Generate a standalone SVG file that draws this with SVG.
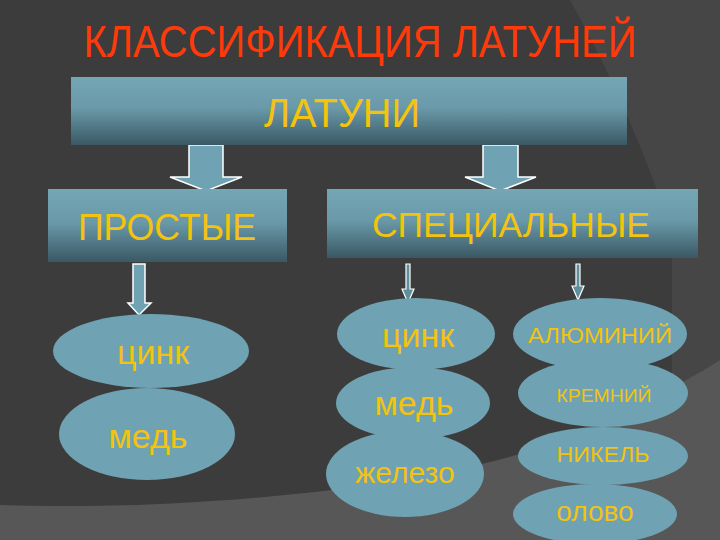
<svg xmlns="http://www.w3.org/2000/svg" width="720" height="540" viewBox="0 0 720 540">
<defs>
<linearGradient id="boxg" x1="0" y1="0" x2="0" y2="1">
<stop offset="0" stop-color="#74a6b5"/>
<stop offset="0.45" stop-color="#6a9aa9"/>
<stop offset="1" stop-color="#3a5864"/>
</linearGradient>
<style>
.box{fill:url(#boxg)}
.ell{fill:#6fa2b2}
.t{font-family:"Liberation Sans",Arial,sans-serif;fill:#f3c30f;text-anchor:middle}
.arrow{fill:#6fa2b2;stroke:#ffffff;stroke-width:1.5;stroke-linejoin:miter}
.thin{fill:#5f8e9d;stroke:#ffffff;stroke-width:1.2}
</style>
</defs>
<rect x="0" y="0" width="720" height="540" fill="#3c3c3c"/>
<path d="M570,0 Q620,90 657,190 L672,260 L672,540 L720,540 L720,0 Z" fill="#464646"/>
<path d="M0,505 C200,512 450,485 560,440 C620,415 690,380 720,360 L720,540 L0,540 Z" fill="#575757"/>
<text x="360" y="57" font-family="'Liberation Sans Narrow','Liberation Sans',Arial,sans-serif" font-size="44" fill="#ff3a0a" text-anchor="middle" textLength="553" lengthAdjust="spacingAndGlyphs">КЛАССИФИКАЦИЯ ЛАТУНЕЙ</text>
<g id="connectors">
<path class="arrow" d="M189,145 L223,145 L223,177 L242,177 L206,191 L170,177 L189,177 Z"/>
<path class="arrow" d="M483,145 L518,145 L518,177 L536,177 L500,191 L465,177 L483,177 Z"/>
<path class="arrow" d="M133,264 L145,264 L145,303 L151,303 L139,315 L128,303 L133,303 Z"/>
<path class="thin" d="M406,264 L410,264 L410,289 L414,289 L408,303 L402,289 L406,289 Z"/>
<path class="thin" d="M576,264 L580,264 L580,286 L584,286 L578,300 L572,286 L576,286 Z"/>
</g>
<g id="latuni">
<rect class="box" x="71" y="77" width="556" height="68"/>
<text class="t" x="342" y="127" font-size="40" textLength="156" lengthAdjust="spacingAndGlyphs">ЛАТУНИ</text>
</g>
<g id="prostye">
<rect class="box" x="48" y="189" width="239" height="73"/>
<text class="t" x="167" y="240" font-size="37" textLength="178" lengthAdjust="spacingAndGlyphs">ПРОСТЫЕ</text>
</g>
<g id="specialnye">
<rect class="box" x="327" y="189" width="371" height="69"/>
<text class="t" x="511" y="237" font-size="35" textLength="278" lengthAdjust="spacingAndGlyphs">СПЕЦИАЛЬНЫЕ</text>
</g>
<g id="p-cink">
<ellipse class="ell" cx="151" cy="351" rx="98" ry="37"/>
<text class="t" x="153" y="364" font-size="34">цинк</text>
</g>
<g id="p-med">
<ellipse class="ell" cx="147" cy="434" rx="88" ry="46"/>
<text class="t" x="148" y="448" font-size="34">медь</text>
</g>
<g id="s-cink">
<ellipse class="ell" cx="416" cy="334" rx="79" ry="36"/>
<text class="t" x="418" y="347" font-size="34">цинк</text>
</g>
<g id="s-med">
<ellipse class="ell" cx="413" cy="403" rx="77" ry="36"/>
<text class="t" x="414" y="415" font-size="34">медь</text>
</g>
<g id="s-zhelezo">
<ellipse class="ell" cx="405" cy="474" rx="79" ry="43"/>
<text class="t" x="405" y="483" font-size="30">железо</text>
</g>
<g id="s-al">
<ellipse class="ell" cx="600" cy="334" rx="87" ry="36"/>
<text class="t" x="600" y="343" font-size="22" textLength="144" lengthAdjust="spacingAndGlyphs">АЛЮМИНИЙ</text>
</g>
<g id="s-kremniy">
<ellipse class="ell" cx="603" cy="393" rx="85" ry="34"/>
<text class="t" x="604" y="402" font-size="19" textLength="95" lengthAdjust="spacingAndGlyphs">КРЕМНИЙ</text>
</g>
<g id="s-nikel">
<ellipse class="ell" cx="603" cy="456" rx="85" ry="29"/>
<text class="t" x="603" y="462" font-size="22" textLength="93" lengthAdjust="spacingAndGlyphs">НИКЕЛЬ</text>
</g>
<g id="s-olovo">
<ellipse class="ell" cx="595" cy="514" rx="82" ry="30"/>
<text class="t" x="595" y="521" font-size="28">олово</text>
</g>
</svg>
